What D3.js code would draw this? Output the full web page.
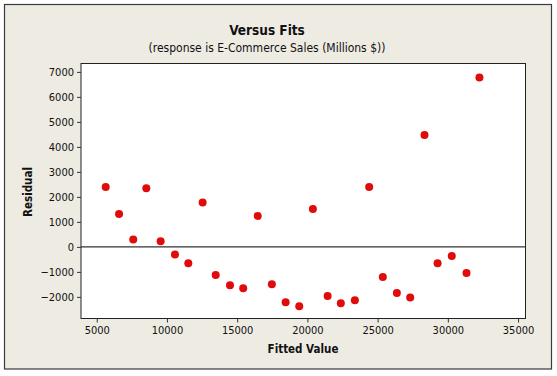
<!DOCTYPE html>
<html>
<head>
<meta charset="utf-8">
<script src="https://cdn.jsdelivr.net/npm/d3@7"></script>
<style>
  body { margin: 0; background: #fff; }
  text { font-family: "DejaVu Sans Condensed", "DejaVu Sans", sans-serif; }
</style>
</head>
<body>
<div id="chart"></div>
<script>
// fitted values and residuals
var fitted = [5640, 6590, 7600, 8530, 9550, 10570, 11520, 12540, 13470, 14490,
              15430, 16460, 17470, 18450, 19420, 20390, 21440, 22380, 23380, 24400,
              25370, 26370, 27320, 28340, 29270, 30280, 31330, 32250];
var residual = [2400, 1320, 300, 2350, 230, -300, -650, 1780, -1120, -1530,
                -1650, 1240, -1490, -2210, -2370, 1520, -1960, -2250, -2130, 2400,
                -1200, -1840, -2020, 4480, -650, -360, -1040, 6780];
var xTicks = [5000, 10000, 15000, 20000, 25000, 30000, 35000];
var yTicks = [-2000, -1000, 0, 1000, 2000, 3000, 4000, 5000, 6000, 7000];

var points = fitted.map(function(f, i){ return {x: f, y: residual[i]}; });

var W = 557, H = 376;
// plot box edges (note: "top" is taken by window.top, so use pTop etc.)
var pLeft = 81, pRight = 525.5, pTop = 63.5, pBottom = 318.5;

var svg = d3.select("#chart").append("svg").attr("width", W).attr("height", H);

// beige background panel with dark frame
svg.append("rect").attr("x", 4.5).attr("y", 4.5).attr("width", 547).attr("height", 364.5)
   .attr("fill", "#eeebe3").attr("stroke", "#3a3a3a").attr("stroke-width", 1.2);

var x = d3.scaleLinear().domain([3880, 35530]).range([pLeft, pRight]);
var y = d3.scaleLinear().domain([-2865, 7335]).range([pBottom, pTop]);

// plot area
svg.append("rect").attr("x", pLeft).attr("y", pTop).attr("width", pRight - pLeft).attr("height", pBottom - pTop)
   .attr("fill", "#fff").attr("stroke", "#222").attr("stroke-width", 1);

// zero reference line
svg.append("line").attr("x1", pLeft).attr("x2", pRight).attr("y1", y(0)).attr("y2", y(0))
   .attr("stroke", "#333").attr("stroke-width", 1.2);

var xAxis = d3.axisBottom(x).tickValues(xTicks).tickSize(4).tickPadding(4).tickFormat(d3.format("d"));
var yAxis = d3.axisLeft(y).tickValues(yTicks).tickSize(4).tickPadding(3).tickFormat(d3.format("d"));

var gx = svg.append("g").attr("transform", "translate(0," + pBottom + ")").call(xAxis);
var gy = svg.append("g").attr("transform", "translate(" + pLeft + ",0)").call(yAxis);
[gx, gy].forEach(function(g){
  g.select(".domain").remove();
  g.selectAll(".tick line").attr("stroke", "#333");
  g.selectAll(".tick text").attr("fill", "#111").style("font-size", "11px")
   .style("font-family", "'DejaVu Sans Condensed', 'DejaVu Sans', sans-serif");
});

// points
svg.selectAll("circle.pt").data(points).enter().append("circle")
   .attr("class", "pt")
   .attr("cx", function(d){ return x(d.x); })
   .attr("cy", function(d){ return y(d.y); })
   .attr("r", 4)
   .attr("fill", "#e00b0b");

// titles
svg.append("text").attr("x", 267).attr("y", 35).attr("text-anchor", "middle")
   .style("font-size", "13.5px").style("font-weight", "bold").attr("fill", "#111").text("Versus Fits");
svg.append("text").attr("x", 267).attr("y", 51.5).attr("text-anchor", "middle")
   .style("font-size", "12px").attr("fill", "#111").text("(response is E-Commerce Sales (Millions $))");

svg.append("text").attr("x", 303).attr("y", 353).attr("text-anchor", "middle")
   .style("font-size", "11.5px").style("font-weight", "bold").attr("fill", "#111").text("Fitted Value");

svg.append("text").attr("transform", "translate(32,192) rotate(-90)").attr("text-anchor", "middle")
   .style("font-size", "11.5px").style("font-weight", "bold").attr("fill", "#111").text("Residual");
</script>
</body>
</html>
